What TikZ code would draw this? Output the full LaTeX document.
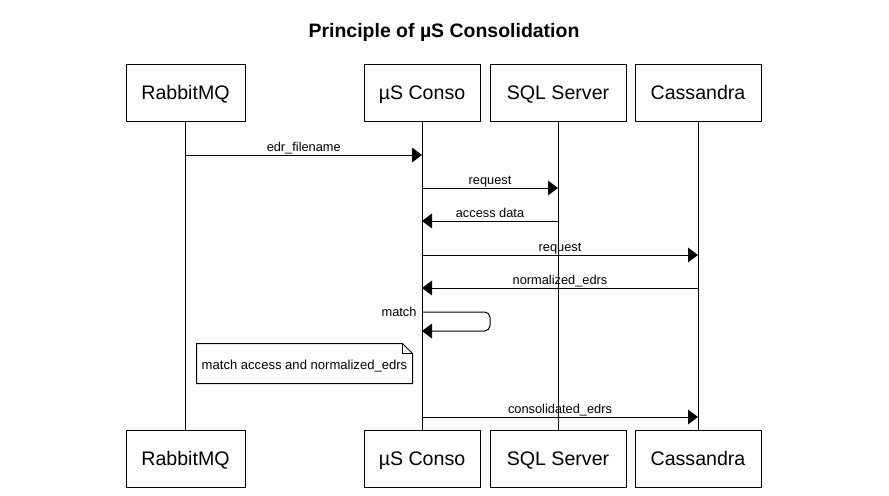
\documentclass[tikz,border=0pt]{standalone}
\usepackage{fontspec}
\setmainfont{Liberation Sans}
\usetikzlibrary{arrows.meta,positioning}

\begin{document}
\begin{tikzpicture}[x=0.75pt,y=-0.75pt,line width=0.75pt,
    >={Triangle[length=7.5pt,width=11pt]},
    actor/.style={draw,minimum height=42.75pt,text height=10.5pt,text depth=0pt,font=\fontsize{14.7}{17}\selectfont},
    msg/.style={->},
    lbl/.style={anchor=base,yshift=2.6pt,font=\fontsize{9.6}{11}\selectfont}]

  \useasboundingbox (0,0) rectangle (889,496);

  \node[anchor=base,font=\bfseries\fontsize{14.6}{17}\selectfont] (title) at (444,37) {Principle of µS Consolidation};

  % participants, top row
  \node[actor,minimum width=89.25pt] (rmq) at (185.5,92.5) {RabbitMQ};
  \node[actor,minimum width=87pt] (conso) at (422,92.5) {µS Conso};
  \node[actor,minimum width=102pt] (sql) at (558,92.5) {SQL Server};
  \node[actor,minimum width=94.5pt] (cass) at (698,92.5) {Cassandra};

  % participants, bottom row
  \node[actor,minimum width=89.25pt] (rmqB) at (185.5,458.5) {RabbitMQ};
  \node[actor,minimum width=87pt] (consoB) at (422,458.5) {µS Conso};
  \node[actor,minimum width=102pt] (sqlB) at (558,458.5) {SQL Server};
  \node[actor,minimum width=94.5pt] (cassB) at (698,458.5) {Cassandra};

  % lifelines
  \draw (rmq) -- (rmqB);
  \draw (conso) -- (consoB);
  \draw (sql) -- (sqlB);
  \draw (cass) -- (cassB);

  % message rows
  \foreach \n/\y in {m1/155,m2/188,m3/221,m4/255,m5/288,lp1/312,lp2/331,m6/417}
    \coordinate (\n) at (0,\y);

  \draw[msg] (rmq |- m1) -- node[lbl] {edr\_filename} (conso |- m1);
  \draw[msg] (conso |- m2) -- node[lbl] {request} (sql |- m2);
  \draw[msg] (sql |- m3) -- node[lbl] {access data} (conso |- m3);
  \draw[msg] (conso |- m4) -- node[lbl] {request} (cass |- m4);
  \draw[msg] (cass |- m5) -- node[lbl] {normalized\_edrs} (conso |- m5);

  \draw[msg,rounded corners=4pt] (conso |- lp1)
    node[anchor=base east,inner sep=0pt,xshift=-3.75pt,yshift=-3.6pt,font=\fontsize{9.6}{11}\selectfont] {match}
    -- ++(68,0) |- (conso |- lp2);

  % note
  \node[minimum width=161.25pt,minimum height=29.25pt,inner sep=0pt,text height=9pt,text depth=0pt,
    font=\fontsize{9.8}{11}\selectfont] (note) at (304.5,363.5) {match access and normalized\_edrs};
  \draw (note.north west) -- ([xshift=-7.5pt]note.north east) -- ([yshift=-7.5pt]note.north east)
    -- (note.south east) -- (note.south west) -- cycle;
  \draw ([xshift=-7.5pt]note.north east) |- ([yshift=-7.5pt]note.north east);

  \draw[msg] (conso |- m6) -- node[lbl] {consolidated\_edrs} (cass |- m6);
\end{tikzpicture}
\end{document}
